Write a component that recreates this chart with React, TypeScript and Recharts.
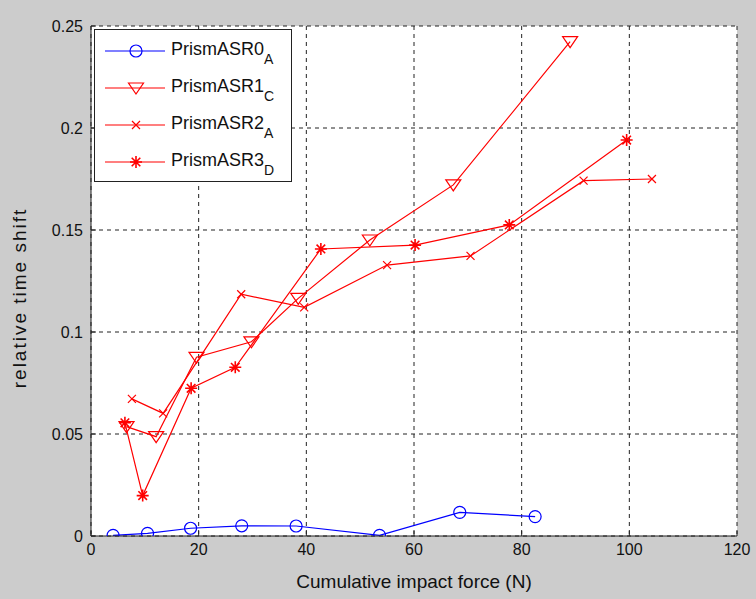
import React from "react";
import { LineChart, Line, XAxis, YAxis, CartesianGrid, Legend } from "recharts";

// values
const asr0X = [4.1, 10.5, 18.5, 28.0, 38.1, 53.6, 68.5, 82.5];
const asr0Y = [0.0003, 0.0013, 0.0038, 0.005, 0.0049, 0.0003, 0.0116, 0.0095];

const asr1X = [6.6, 12.1, 19.6, 29.8, 38.5, 51.8, 67.3, 89.0];
const asr1Y = [0.0536, 0.0487, 0.0876, 0.0952, 0.1165, 0.1451, 0.1721, 0.2423];

const asr2X = [7.6, 13.4, 27.9, 39.6, 55.0, 70.5, 91.5, 104.2];
const asr2Y = [0.0672, 0.0601, 0.1185, 0.1121, 0.1328, 0.1373, 0.1742, 0.175];

const asr3X = [6.3, 9.6, 18.6, 26.8, 42.7, 60.2, 77.7, 99.5];
const asr3Y = [0.0555, 0.0198, 0.0724, 0.0827, 0.1407, 0.1426, 0.1525, 0.1941];

const xTicks = [0, 20, 40, 60, 80, 100, 120];
const yTicks = [0, 0.05, 0.1, 0.15, 0.2, 0.25];

const RED = "#ff0000";
const BLUE = "#0000ff";
const AXIS = "#222222";
const FONT = "'Liberation Sans', Arial, sans-serif";

const toPoints = (xs: number[], ys: number[]) => xs.map((x, i) => ({ x, y: ys[i] }));

type MarkerKind = "circle" | "triangle" | "cross" | "star";

function Marker({ kind, cx, cy, color }: { kind: MarkerKind; cx: number; cy: number; color: string }) {
  if (kind === "circle") {
    return <circle cx={cx} cy={cy} r={6} fill="none" stroke={color} strokeWidth={1.2} />;
  }
  if (kind === "triangle") {
    const pts = `${cx - 7.5},${cy - 5} ${cx + 7.5},${cy - 5} ${cx},${cy + 6}`;
    return <polygon points={pts} fill="none" stroke={color} strokeWidth={1.2} />;
  }
  if (kind === "cross") {
    const s = 4;
    return (
      <path
        d={`M${cx - s},${cy - s}L${cx + s},${cy + s}M${cx - s},${cy + s}L${cx + s},${cy - s}`}
        stroke={color}
        strokeWidth={1.2}
      />
    );
  }
  const s = 6;
  const d = 4.3;
  return (
    <path
      d={`M${cx - s},${cy}L${cx + s},${cy}M${cx},${cy - s}L${cx},${cy + s}M${cx - d},${cy - d}L${cx + d},${cy + d}M${cx - d},${cy + d}L${cx + d},${cy - d}`}
      stroke={color}
      strokeWidth={1.6}
    />
  );
}

const dotFor = (kind: MarkerKind, color: string) => (props: any) => {
  const { cx, cy, index } = props;
  if (cx == null || cy == null) return <g key={index} />;
  return <Marker key={index} kind={kind} cx={cx} cy={cy} color={color} />;
};

const legendRows: { name: string; sub: string; kind: MarkerKind; color: string }[] = [
  { name: "PrismASR0", sub: "A", kind: "circle", color: BLUE },
  { name: "PrismASR1", sub: "C", kind: "triangle", color: RED },
  { name: "PrismASR2", sub: "A", kind: "cross", color: RED },
  { name: "PrismASR3", sub: "D", kind: "star", color: RED },
];

function LegendBox() {
  return (
    <div
      style={{
        width: 198,
        height: 153,
        boxSizing: "border-box",
        border: `1.5px solid ${AXIS}`,
        background: "#fff",
        position: "relative",
        fontFamily: FONT,
      }}
    >
      {legendRows.map((r, i) => (
        <div key={r.name} style={{ position: "absolute", left: 0, top: 7 + i * 37, height: 30, display: "flex", alignItems: "center" }}>
          <svg width={76} height={30} style={{ display: "block" }}>
            <line x1={10} x2={70} y1={14} y2={14} stroke={r.color} strokeWidth={1.2} />
            <Marker kind={r.kind} cx={41} cy={14} color={r.color} />
          </svg>
          <span style={{ fontSize: 18, color: "#111", lineHeight: "20px", marginTop: -6 }}>
            {r.name}
            <span style={{ fontSize: 14, position: "relative", top: 9 }}>{r.sub}</span>
          </span>
        </div>
      ))}
    </div>
  );
}

// y label sits a little below the axis centre, as in the reference
const YLabel = () => (
  <text
    x={19}
    y={298}
    transform="rotate(-90 19 298)"
    textAnchor="middle"
    dominantBaseline="central"
    fill="#111"
    fontSize={19}
    fontFamily={FONT}
    letterSpacing={2}
  >
    relative time shift
  </text>
);

export default function App() {
  return (
    <div style={{ position: "absolute", left: 0, top: 0, width: 756, height: 599, background: "#cccccc" }}>
      <LineChart width={756} height={599} margin={{ top: 26, right: 19, bottom: 0, left: 0 }}>
        <CartesianGrid stroke={AXIS} strokeDasharray="4 4" fill="#ffffff" />
        <XAxis
          type="number"
          dataKey="x"
          domain={[0, 120]}
          ticks={xTicks}
          height={63}
          stroke={AXIS}
          tickSize={-5}
          tickMargin={13}
          tick={{ fill: "#111", fontSize: 16, fontFamily: FONT }}
          label={{ value: "Cumulative impact force (N)", position: "insideBottom", offset: 11, fill: "#111", fontSize: 19, fontFamily: FONT }}
          allowDataOverflow
        />
        <XAxis xAxisId="top" orientation="top" type="number" domain={[0, 120]} ticks={xTicks} height={0} stroke={AXIS} tickSize={-5} tick={false} />
        <YAxis
          type="number"
          domain={[0, 0.25]}
          ticks={yTicks}
          width={91}
          stroke={AXIS}
          tickSize={-5}
          tickMargin={13}
          tick={{ fill: "#111", fontSize: 16, fontFamily: FONT }}
          label={{ content: () => <YLabel /> }}
          allowDataOverflow
        />
        <YAxis yAxisId="right" orientation="right" type="number" domain={[0, 0.25]} ticks={yTicks} width={0} stroke={AXIS} tickSize={-5} tick={false} />
        <Legend
          layout="vertical"
          align="center"
          verticalAlign="middle"
          content={() => <LegendBox />}
          wrapperStyle={{ left: 94, top: 29, width: 198, height: 153 }}
        />
        <Line data={toPoints(asr0X, asr0Y)} dataKey="y" stroke={BLUE} strokeWidth={1.2} dot={dotFor("circle", BLUE)} activeDot={false} isAnimationActive={false} />
        <Line data={toPoints(asr1X, asr1Y)} dataKey="y" stroke={RED} strokeWidth={1.2} dot={dotFor("triangle", RED)} activeDot={false} isAnimationActive={false} />
        <Line data={toPoints(asr2X, asr2Y)} dataKey="y" stroke={RED} strokeWidth={1.2} dot={dotFor("cross", RED)} activeDot={false} isAnimationActive={false} />
        <Line data={toPoints(asr3X, asr3Y)} dataKey="y" stroke={RED} strokeWidth={1.2} dot={dotFor("star", RED)} activeDot={false} isAnimationActive={false} />
      </LineChart>
    </div>
  );
}
